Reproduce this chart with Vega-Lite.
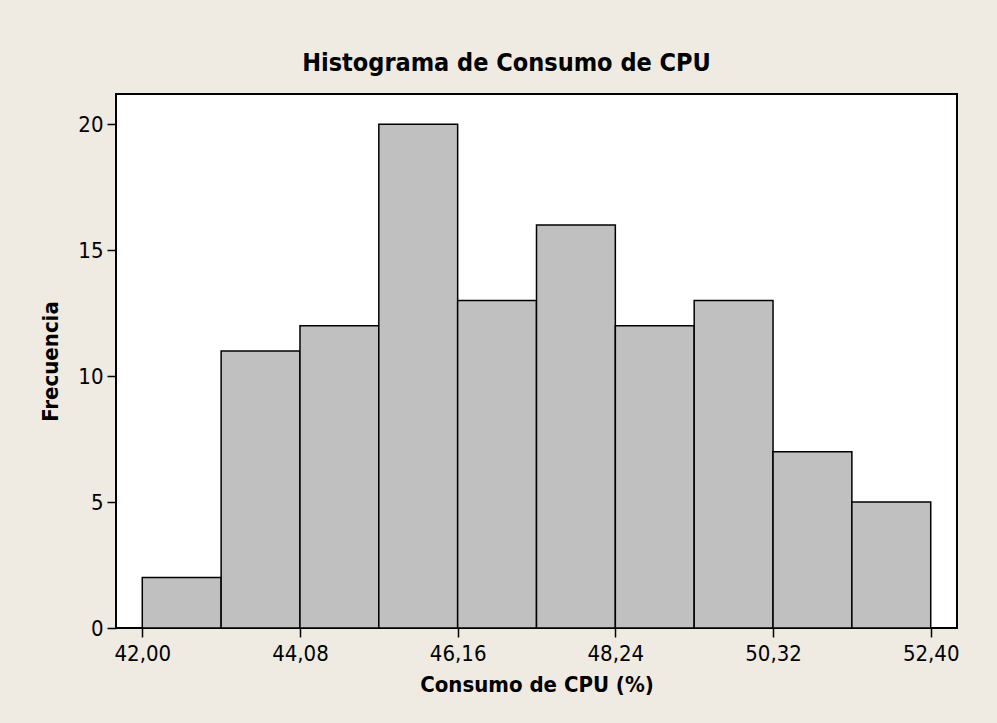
{
  "$schema": "https://vega.github.io/schema/vega-lite/v6.json",
  "width": 841,
  "height": 534,
  "autosize": {"type": "none"},
  "padding": {"left": 116, "top": 94, "right": 40, "bottom": 95},
  "background": "#efebe2",
  "title": {
    "text": "Histograma de Consumo de CPU",
    "font": "DejaVu Sans Condensed",
    "fontSize": 25,
    "fontWeight": "bold",
    "color": "black",
    "anchor": "middle",
    "dx": -30,
    "offset": -2,
    "baseline": "alphabetic"
  },
  "data": {
    "values": [
      {"desde": 42.00, "hasta": 43.04, "frecuencia": 2},
      {"desde": 43.04, "hasta": 44.08, "frecuencia": 11},
      {"desde": 44.08, "hasta": 45.12, "frecuencia": 12},
      {"desde": 45.12, "hasta": 46.16, "frecuencia": 20},
      {"desde": 46.16, "hasta": 47.20, "frecuencia": 13},
      {"desde": 47.20, "hasta": 48.24, "frecuencia": 16},
      {"desde": 48.24, "hasta": 49.28, "frecuencia": 12},
      {"desde": 49.28, "hasta": 50.32, "frecuencia": 13},
      {"desde": 50.32, "hasta": 51.36, "frecuencia": 7},
      {"desde": 51.36, "hasta": 52.40, "frecuencia": 5}
    ]
  },
  "mark": {"type": "bar", "fill": "#c0c0c0", "stroke": "black", "strokeWidth": 1.5},
  "encoding": {
    "x": {
      "field": "desde",
      "type": "quantitative",
      "scale": {"domain": [41.6533, 52.7467], "nice": false, "zero": false, "padding": 0},
      "axis": {
        "values": [42, 44.08, 46.16, 48.24, 50.32, 52.4],
        "labelExpr": "replace(format(datum.value, '.2f'), '.', ',')",
        "title": "Consumo de CPU (%)",
        "labelPadding": 6,
        "titlePadding": 10
      }
    },
    "x2": {"field": "hasta"},
    "y": {
      "field": "frecuencia",
      "type": "quantitative",
      "scale": {"domain": [0, 21.2], "nice": false, "padding": 0},
      "axis": {
        "values": [0, 5, 10, 15, 20],
        "title": "Frecuencia",
        "labelPadding": 4,
        "titlePadding": 15
      }
    },
    "y2": {"datum": 0}
  },
  "config": {
    "view": {"fill": "white", "stroke": "black", "strokeWidth": 2},
    "axis": {
      "domain": false,
      "grid": false,
      "tickColor": "black",
      "tickSize": 9,
      "tickWidth": 1.5,
      "labelFont": "DejaVu Sans Condensed",
      "labelFontSize": 22,
      "labelColor": "black",
      "labelFlush": false,
      "labelOverlap": false,
      "titleFont": "DejaVu Sans Condensed",
      "titleFontSize": 22,
      "titleFontWeight": "bold",
      "titleColor": "black"
    }
  }
}
